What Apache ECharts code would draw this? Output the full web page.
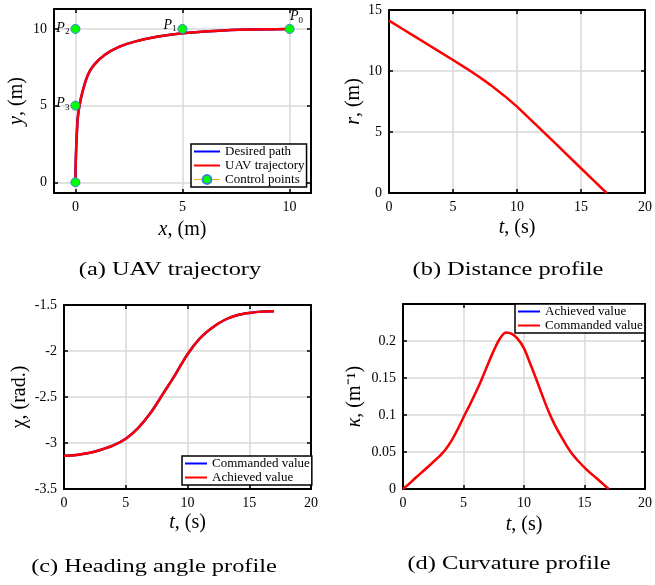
<!DOCTYPE html>
<html>
<head>
<meta charset="utf-8">
<script src="https://cdn.jsdelivr.net/npm/echarts@6/dist/echarts.min.js"></script>
<style>
  html, body { margin: 0; padding: 0; background: #fff; }
  #chart { width: 655px; height: 585px; }
</style>
</head>
<body>
<div id="chart"></div>
<script>
// (a) UAV trajectory
const pathX = [0, 0.01, 0.03, 0.06, 0.11, 0.19, 0.33, 0.58, 0.86, 1.36, 2.06, 2.77, 3.86, 5.0, 6.5, 8.0, 10.0];
const pathY = [0, 1.0, 2.0, 3.0, 4.2, 5.0, 5.9, 6.99, 7.64, 8.3, 8.84, 9.17, 9.5, 9.72, 9.87, 9.96, 10.0];
const ctrlX = [10, 5, 0, 0, 0];
const ctrlY = [10, 10, 10, 5, 0];
const ctrlSub = ['0', '1', '2', '3', ''];

// (b) distance profile
const distT = [0, 1, 2, 3, 4, 5, 6, 7, 8, 9, 10, 11, 12, 13, 14, 15, 16, 17];
const distR = [14.13, 13.48, 12.84, 12.19, 11.55, 10.9, 10.24, 9.55, 8.8, 7.98, 7.08, 6.08, 5.07, 4.06, 3.04, 2.03, 1.01, 0];

// (c) heading angle profile
const headT = [0, 1, 2, 3, 4, 5, 6, 7, 8, 9, 10, 11, 12, 13, 14, 15, 16, 17];
const headChi = [-3.138, -3.13, -3.109, -3.073, -3.026, -2.953, -2.838, -2.675, -2.469, -2.259, -2.035, -1.862, -1.746, -1.663, -1.612, -1.587, -1.572, -1.569];

// (d) curvature profile, every 0.5 s
const curvT = [0, 0.5, 1, 1.5, 2, 2.5, 3, 3.5, 4, 4.5, 5, 5.5, 6, 6.5, 7, 7.5, 8, 8.5, 9, 9.5, 10, 10.5, 11, 11.5, 12, 12.5, 13, 13.5, 14, 14.5, 15, 15.5, 16, 16.5, 17];
const curvK = [0, 0.007, 0.0145, 0.0218, 0.029, 0.0365, 0.044, 0.053, 0.065, 0.08, 0.097, 0.113, 0.13, 0.148, 0.168, 0.187, 0.203, 0.2115, 0.2095, 0.2025, 0.19, 0.17, 0.149, 0.127, 0.106, 0.088, 0.073, 0.059, 0.047, 0.0375, 0.029, 0.0215, 0.0145, 0.0072, 0];

const captions = ['(a) UAV trajectory', '(b) Distance profile', '(c) Heading angle profile', '(d) Curvature profile'];

const serif = '"Liberation Serif", "Times New Roman", serif';
const pairs = (xs, ys) => xs.map((x, i) => [x, ys[i]]);

const nameStyle = {
  fontFamily: serif, fontSize: 20, color: '#000',
  rich: { i: { fontFamily: serif, fontSize: 20, fontStyle: 'italic', color: '#000' } }
};

// main axis + mirrored axis (box and inner ticks on the opposite side)
function axes(dim, g, o) {
  const main = {
    type: 'value', gridIndex: g, min: o.min, max: o.max,
    position: dim === 'x' ? 'bottom' : 'left',
    axisLine: { show: true, onZero: false, lineStyle: { color: '#000', width: 2 } },
    axisTick: { show: true, inside: true, length: 4, lineStyle: { color: '#000', width: 1.5 } },
    axisLabel: { color: '#000', fontFamily: serif, fontSize: 14, margin: 7, formatter: o.fmt },
    splitLine: { show: true, lineStyle: { color: '#d9d9d9', width: 1.5 } },
    name: o.name, nameLocation: 'middle', nameGap: o.gap, nameTextStyle: nameStyle
  };
  const mirror = {
    type: 'value', gridIndex: g, min: o.min, max: o.max,
    position: dim === 'x' ? 'top' : 'right',
    axisLine: { show: true, onZero: false, lineStyle: { color: '#000', width: 2 } },
    axisTick: { show: true, inside: true, length: 4, lineStyle: { color: '#000', width: 1.5 } },
    axisLabel: { show: false },
    splitLine: { show: false }
  };
  if (o.ticks) {
    main.axisTick.customValues = o.ticks;
    main.axisLabel.customValues = o.ticks;
    mirror.axisTick.customValues = o.ticks;
  } else {
    main.interval = o.interval;
    mirror.interval = o.interval;
  }
  return [main, mirror];
}

const legendBase = {
  orient: 'vertical', backgroundColor: '#fff', borderColor: '#000', borderWidth: 1.5,
  padding: [1, 2, 1, 2], itemGap: 1, itemWidth: 22, itemHeight: 11,
  textStyle: { fontFamily: serif, fontSize: 13, color: '#000' },
  formatter: name => name.split('#')[0]
};
// line-only legend entries: hide the marker, keep the line
const lineOnly = name => ({ name: name, itemStyle: { opacity: 0 } });

const ctrlData = ctrlX.map((x, i) => {
  const item = { value: [x, ctrlY[i]] };
  if (ctrlSub[i] !== '') item.label = { show: true, formatter: '{p|P}{s|' + ctrlSub[i] + '}' };
  return item;
});
ctrlData[0].label.position = 'top'; ctrlData[0].label.offset = [7, 2];
ctrlData[1].label.position = 'left'; ctrlData[1].label.offset = [0, -4];
ctrlData[2].label.position = 'left'; ctrlData[2].label.offset = [0, -1];
ctrlData[3].label.position = 'left'; ctrlData[3].label.offset = [0, -2];

const chart = echarts.init(document.getElementById('chart'));

const option = {
  animation: false,
  backgroundColor: '#fff',
  grid: [
    { left: 54, top: 9, width: 257, height: 184 },
    { left: 389, top: 10, width: 257, height: 183 },
    { left: 64, top: 305, width: 247, height: 184 },
    { left: 403, top: 304, width: 243, height: 185 }
  ],
  xAxis: [
    ...axes('x', 0, { min: -1, max: 11, ticks: [0, 5, 10], name: '{i|x}, (m)', gap: 27 }),
    ...axes('x', 1, { min: 0, max: 20, interval: 5, name: '{i|t}, (s)', gap: 25 }),
    ...axes('x', 2, { min: 0, max: 20, interval: 5, name: '{i|t}, (s)', gap: 24 }),
    ...axes('x', 3, { min: 0, max: 20, interval: 5, name: '{i|t}, (s)', gap: 26 })
  ],
  yAxis: [
    ...axes('y', 0, { min: -0.7, max: 11.3, ticks: [0, 5, 10], name: '{i|y}, (m)', gap: 27 }),
    ...axes('y', 1, { min: 0, max: 15, interval: 5, name: '{i|r}, (m)', gap: 24 }),
    ...axes('y', 2, { min: -3.5, max: -1.5, interval: 0.5, name: 'χ, (rad.)', gap: 34 }),
    ...axes('y', 3, { min: 0, max: 0.25, interval: 0.05, name: '{i|κ}, (m⁻¹)', gap: 38,
      fmt: v => (v > 0.24 ? '' : String(Math.round(v * 100) / 100)) })
  ],
  legend: [
    Object.assign({}, legendBase, {
      left: 191, top: 144, itemWidth: 26,
      data: [lineOnly('Desired path'), lineOnly('UAV trajectory'),
        { name: 'Control points', lineStyle: { color: '#EDB120', width: 1, opacity: 1 } }]
    }),
    Object.assign({}, legendBase, {
      left: 182, top: 456,
      data: [lineOnly('Commanded value#c'), lineOnly('Achieved value#c')]
    }),
    Object.assign({}, legendBase, {
      left: 515, top: 304,
      data: [lineOnly('Achieved value#d'), lineOnly('Commanded value#d')]
    })
  ],
  series: [
    { name: 'Desired path', type: 'line', xAxisIndex: 0, yAxisIndex: 0, data: pairs(pathX, pathY),
      smooth: 0.3, symbol: 'none', lineStyle: { color: '#0000ff', width: 2.5 }, itemStyle: { color: '#0000ff' } },
    { name: 'UAV trajectory', type: 'line', xAxisIndex: 0, yAxisIndex: 0, data: pairs(pathX, pathY),
      smooth: 0.3, symbol: 'none', lineStyle: { color: '#ff0000', width: 2.5 }, itemStyle: { color: '#ff0000' } },
    { name: 'Control points', type: 'line', xAxisIndex: 0, yAxisIndex: 0, data: ctrlData, z: 5,
      symbol: 'circle', symbolSize: 9, lineStyle: { color: '#EDB120', width: 1, opacity: 0 },
      itemStyle: { color: '#00ff00', borderColor: '#3d7fd9', borderWidth: 1 },
      label: { show: false, distance: 1, color: '#000', fontFamily: serif,
        rich: { p: { fontFamily: serif, fontSize: 14, fontStyle: 'italic', color: '#000' },
                s: { fontFamily: serif, fontSize: 9, color: '#000', padding: [8, 0, 0, 0] } } } },

    { name: 'Distance', type: 'line', xAxisIndex: 2, yAxisIndex: 2, data: pairs(distT, distR),
      symbol: 'none', lineStyle: { color: '#ff0000', width: 2.5 } },

    { name: 'Commanded value#c', type: 'line', xAxisIndex: 4, yAxisIndex: 4, data: pairs(headT, headChi),
      smooth: 0.3, symbol: 'none', lineStyle: { color: '#0000ff', width: 2.5 }, itemStyle: { color: '#0000ff' } },
    { name: 'Achieved value#c', type: 'line', xAxisIndex: 4, yAxisIndex: 4, data: pairs(headT, headChi),
      smooth: 0.3, symbol: 'none', lineStyle: { color: '#ff0000', width: 2.5 }, itemStyle: { color: '#ff0000' } },

    { name: 'Achieved value#d', type: 'line', xAxisIndex: 6, yAxisIndex: 6, data: pairs(curvT, curvK),
      smooth: 0.3, symbol: 'none', lineStyle: { color: '#0000ff', width: 1.5 }, itemStyle: { color: '#0000ff' } },
    { name: 'Commanded value#d', type: 'line', xAxisIndex: 6, yAxisIndex: 6, data: pairs(curvT, curvK),
      smooth: 0.3, symbol: 'none', lineStyle: { color: '#ff0000', width: 2.5 }, itemStyle: { color: '#ff0000' } }
  ],
  graphic: [
    [170, 270], [508, 270], [154, 567], [509, 564]
  ].map((p, i) => ({
    type: 'text', x: p[0], y: p[1], scaleX: 1.25,
    style: { text: captions[i], x: 0, y: 0, textAlign: 'center', textVerticalAlign: 'middle',
      font: '19.5px ' + serif, fill: '#000' }
  }))
};

chart.setOption(option);
</script>
</body>
</html>
